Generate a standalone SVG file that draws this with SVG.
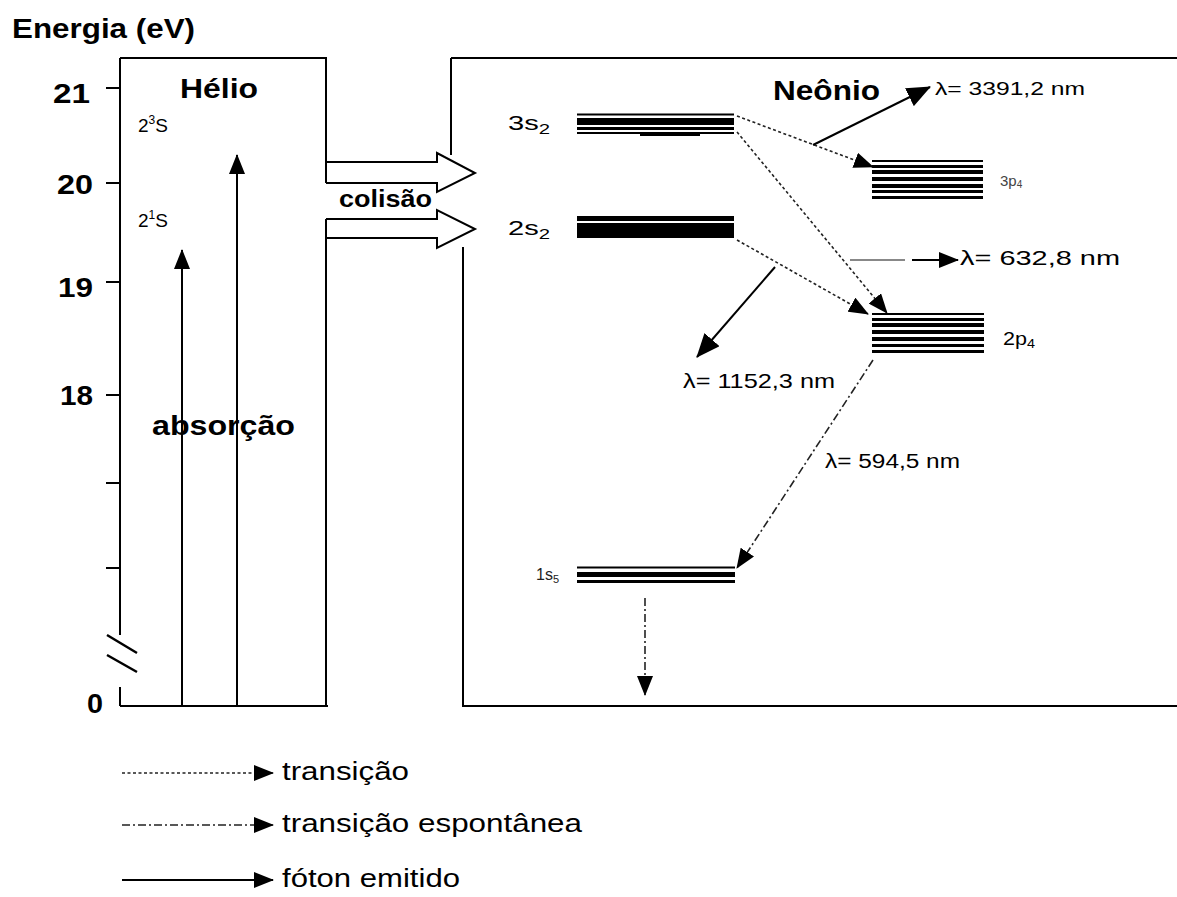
<svg xmlns="http://www.w3.org/2000/svg" width="1177" height="897" viewBox="0 0 1177 897">
  <style>
    text { font-family: "Liberation Sans", Arial, sans-serif; fill: #000; }
    .b { font-weight: bold; }
    .frame { fill: none; stroke: #000; stroke-width: 2; }
    .solid { fill: none; stroke: #000; stroke-width: 2; }
    .dot { fill: none; stroke: #222; stroke-width: 1.6; stroke-dasharray: 3 2.5; }
    .dashdot { fill: none; stroke: #222; stroke-width: 1.6; stroke-dasharray: 8 3 2 3; }
    .lvl rect { fill: #000; }
  </style>
  <defs>
    <marker id="head" viewBox="0 0 20 16" markerWidth="20" markerHeight="16" refX="19" refY="8" orient="auto" markerUnits="userSpaceOnUse">
      <path d="M0,0 L20,8 L0,16 z" fill="#000"/>
    </marker>
    <marker id="head-lg" viewBox="0 0 24 20" markerWidth="24" markerHeight="20" refX="23" refY="10" orient="auto" markerUnits="userSpaceOnUse">
      <path d="M0,0 L24,10 L0,20 z" fill="#000"/>
    </marker>
  </defs>

  <!-- energy axis -->
  <g id="axis">
    <text class="b" x="12" y="38" font-size="27" textLength="183" lengthAdjust="spacingAndGlyphs">Energia (eV)</text>
    <path class="frame" d="M120,58 V635 M120,687 V706 M106,88 H120 M106,183 H120 M106,282 H120 M106,395 H120 M106,483 H120 M106,568 H120"/>
    <path d="M107,635 L137,653 M107,655 L137,672" stroke="#000" stroke-width="2.5"/>
    <text class="b" x="53" y="103" font-size="28" textLength="37" lengthAdjust="spacingAndGlyphs">21</text>
    <text class="b" x="57" y="194" font-size="28" textLength="36" lengthAdjust="spacingAndGlyphs">20</text>
    <text class="b" x="58" y="297" font-size="28" textLength="35" lengthAdjust="spacingAndGlyphs">19</text>
    <text class="b" x="60" y="405" font-size="28" textLength="33" lengthAdjust="spacingAndGlyphs">18</text>
    <text class="b" x="87" y="713" font-size="28" textLength="16" lengthAdjust="spacingAndGlyphs">0</text>
  </g>

  <!-- helium panel -->
  <g id="helio">
    <path class="frame" d="M120,58 H327 M326,58 V183 M326,219 V706 M120,706 H328"/>
    <text class="b" x="180" y="98" font-size="27" textLength="78" lengthAdjust="spacingAndGlyphs">Hélio</text>
    <text x="138" y="132" font-size="19">2<tspan font-size="12" dy="-8">3</tspan><tspan dy="8">S</tspan></text>
    <text x="138" y="227" font-size="19">2<tspan font-size="12" dy="-8">1</tspan><tspan dy="8">S</tspan></text>
    <text class="b" x="152" y="435" font-size="27" textLength="143" lengthAdjust="spacingAndGlyphs">absorção</text>
  </g>

  <!-- collision arrows -->
  <g id="colisao">
    <path class="frame" d="M326,162 H437 V153 L475,173 L437,192 V183 H326"/>
    <path class="frame" d="M326,219 H437 V210 L475,229 L437,248 V238 H326"/>
    <text class="b" x="339" y="207" font-size="23" textLength="93" lengthAdjust="spacingAndGlyphs">colisão</text>
  </g>

  <!-- neon panel -->
  <g id="neonio">
    <path class="frame" d="M451,58 H1177 M451,58 V155 M463,247 V706 H1177"/>
    <text class="b" x="773" y="100" font-size="27" textLength="107" lengthAdjust="spacingAndGlyphs">Neônio</text>
  </g>

  <!-- neon levels -->
  <g id="n-3s2" class="lvl">
    <rect x="577" y="113.5" width="157" height="2"/>
    <rect x="577" y="118" width="157" height="7"/>
    <rect x="577" y="127" width="157" height="3"/>
    <rect x="577" y="132" width="157" height="2"/>
    <rect x="640" y="134" width="60" height="2" fill="#555"/>
    <text x="508" y="130" font-size="20" textLength="42" lengthAdjust="spacingAndGlyphs">3s<tspan font-size="14" dy="4">2</tspan></text>
  </g>
  <g id="n-2s2" class="lvl">
    <rect x="577" y="216" width="157" height="5"/>
    <rect x="577" y="223" width="157" height="15"/>
    <rect x="617" y="228" width="90" height="1.5" fill="#fff"/>
    <rect x="613" y="234" width="117" height="1.5" fill="#fff"/>
    <text x="508" y="235" font-size="20" textLength="42" lengthAdjust="spacingAndGlyphs">2s<tspan font-size="14" dy="4">2</tspan></text>
  </g>
  <g id="n-3p4" class="lvl">
    <rect x="872" y="160" width="111" height="2"/>
    <rect x="872" y="165" width="111" height="3"/>
    <rect x="872" y="170" width="111" height="4"/>
    <rect x="872" y="177" width="111" height="4"/>
    <rect x="872" y="184" width="111" height="4"/>
    <rect x="872" y="190" width="111" height="3"/>
    <rect x="872" y="196" width="111" height="3"/>
    <text x="1000" y="186" font-size="15" style="fill:#444">3p<tspan font-size="10" dy="2">4</tspan></text>
  </g>
  <g id="n-2p4" class="lvl">
    <rect x="872" y="313" width="112" height="2"/>
    <rect x="872" y="318" width="112" height="3"/>
    <rect x="872" y="323" width="112" height="4"/>
    <rect x="872" y="330" width="112" height="4"/>
    <rect x="872" y="337" width="112" height="4"/>
    <rect x="872" y="344" width="112" height="3"/>
    <rect x="872" y="350" width="112" height="3"/>
    <text x="1003" y="345" font-size="18" textLength="32" lengthAdjust="spacingAndGlyphs">2p<tspan font-size="12" dy="3">4</tspan></text>
  </g>
  <g id="n-1s5" class="lvl">
    <rect x="577" y="566.5" width="158" height="2"/>
    <rect x="577" y="572" width="158" height="5"/>
    <rect x="577" y="580" width="158" height="3"/>
    <text x="536" y="580" font-size="16" style="fill:#222">1s<tspan font-size="11" dy="3">5</tspan></text>
  </g>

  <!-- transitions and emitted photons -->
  <g id="connectors">
    <line class="solid" x1="182" y1="706" x2="182" y2="250" marker-end="url(#head)"/>
    <line class="solid" x1="237" y1="706" x2="237" y2="155" marker-end="url(#head)"/>
    <line class="dot" x1="737" y1="116" x2="873" y2="167" marker-end="url(#head)"/>
    <line class="dot" x1="737" y1="132" x2="887" y2="313" marker-end="url(#head)"/>
    <line class="dot" x1="737" y1="240" x2="868" y2="314" marker-end="url(#head)"/>
    <line class="solid" x1="813" y1="145" x2="930" y2="87" stroke-width="2.5" marker-end="url(#head-lg)"/>
    <line x1="850" y1="260" x2="905" y2="260" stroke="#888" stroke-width="2"/>
    <line class="solid" x1="912" y1="260" x2="958" y2="260" marker-end="url(#head)"/>
    <line class="solid" x1="775" y1="267" x2="697" y2="357" marker-end="url(#head-lg)"/>
    <line class="dashdot" x1="873" y1="360" x2="737" y2="568" marker-end="url(#head)"/>
    <line class="dashdot" x1="645" y1="598" x2="645" y2="695" marker-end="url(#head)"/>
  </g>

  <!-- wavelength labels -->
  <g id="labels">
    <text x="935" y="95" font-size="18" textLength="150" lengthAdjust="spacingAndGlyphs">λ= 3391,2 nm</text>
    <text x="960" y="265" font-size="21" textLength="160" lengthAdjust="spacingAndGlyphs">λ= 632,8 nm</text>
    <text x="683" y="388" font-size="21" textLength="152" lengthAdjust="spacingAndGlyphs">λ= 1152,3 nm</text>
    <text x="825" y="468" font-size="20" textLength="135" lengthAdjust="spacingAndGlyphs">λ= 594,5 nm</text>
  </g>

  <!-- key -->
  <g id="legenda">
    <line class="dot" x1="122" y1="773" x2="273" y2="773" marker-end="url(#head)"/>
    <line class="dashdot" x1="122" y1="825" x2="273" y2="825" marker-end="url(#head)"/>
    <line class="solid" x1="122" y1="880" x2="273" y2="880" marker-end="url(#head)"/>
    <text x="282" y="780" font-size="25" textLength="127" lengthAdjust="spacingAndGlyphs">transição</text>
    <text x="282" y="832" font-size="25" textLength="300" lengthAdjust="spacingAndGlyphs">transição espontânea</text>
    <text x="282" y="887" font-size="25" textLength="178" lengthAdjust="spacingAndGlyphs">fóton emitido</text>
  </g>
</svg>
